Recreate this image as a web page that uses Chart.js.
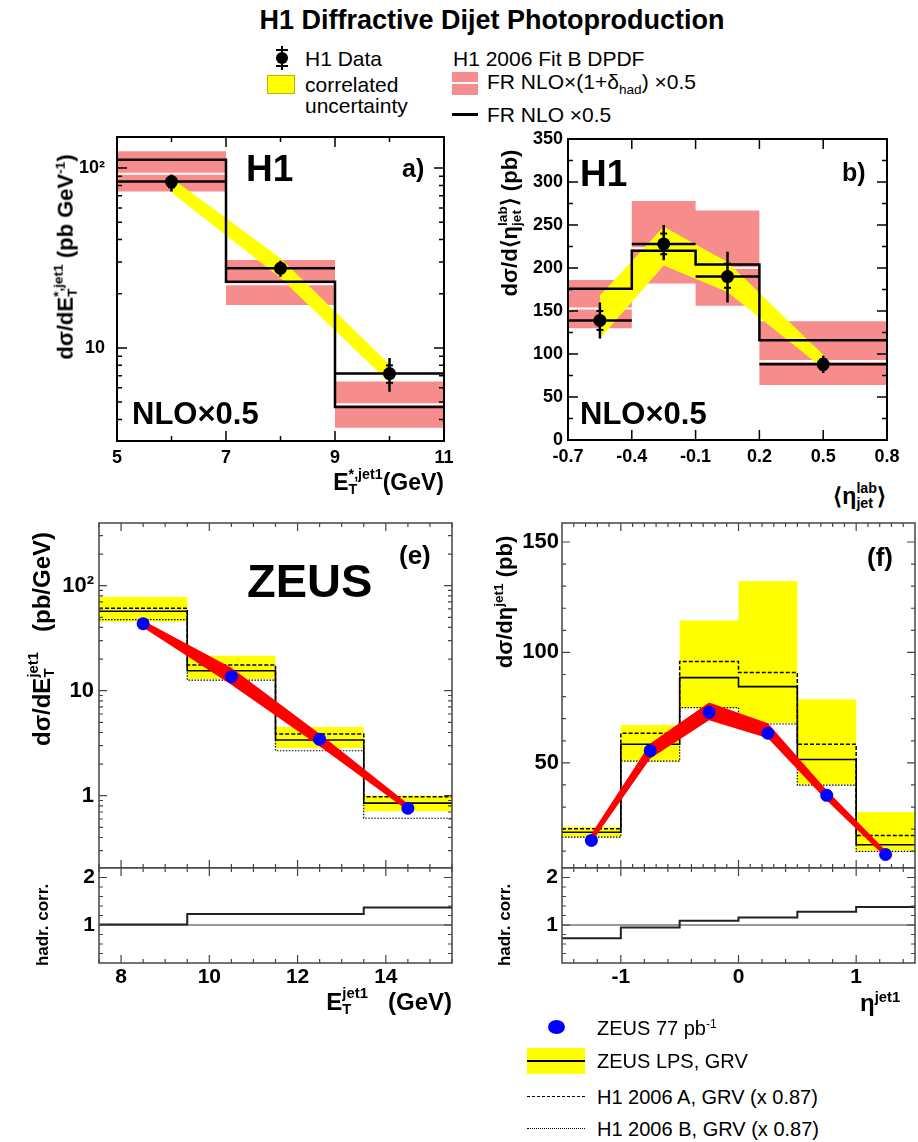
<!DOCTYPE html>
<html>
<head>
<meta charset="utf-8">
<script src="https://cdn.jsdelivr.net/npm/chart.js@4.4.1/dist/chart.umd.min.js"></script>
<style>
  body { margin: 0; width: 918px; height: 1142px; background: #fff; position: relative; overflow: hidden;
         font-family: "Liberation Sans", Arial, Helvetica, sans-serif; }
  canvas { position: absolute; }
  .t { position: absolute; white-space: nowrap; color: #000; line-height: 1; }
  .b { font-weight: bold; }
  .l { transform: translate(0, -50%); }
  .c { transform: translate(-50%, -50%); }
  .r { transform: translate(-100%, -50%); }
  .rot { transform: translate(-50%, -50%) rotate(-90deg); }
  .ss { display: inline-block; vertical-align: -0.3em; font-size: 0.62em; line-height: 1.05; text-align: left; }
  .ss > span { display: block; }
  .box { position: absolute; }
</style>
</head>
<body>

<!-- titre + légende H1 -->
<div class="t b c" style="left:492px;top:20px;font-size:27px">H1 Diffractive Dijet Photoproduction</div>

<div class="box" style="left:281px;top:46px;width:2px;height:24px;background:#000"></div>
<div class="box" style="left:276px;top:49px;width:12px;height:2px;background:#000"></div>
<div class="box" style="left:276px;top:65px;width:12px;height:2px;background:#000"></div>
<div class="box" style="left:276px;top:52px;width:12px;height:12px;border-radius:50%;background:#000"></div>
<div class="t l" style="left:305px;top:58px;font-size:21px">H1 Data</div>
<div class="box" style="left:267px;top:75px;width:26px;height:17px;background:#ffff00;border:1px solid #b8b800"></div>
<div class="t l" style="left:305px;top:84px;font-size:21px">correlated</div>
<div class="t l" style="left:305px;top:105px;font-size:21px">uncertainty</div>

<div class="t l" style="left:453px;top:58px;font-size:21px">H1 2006 Fit B DPDF</div>
<div class="box" style="left:452px;top:72px;width:26px;height:23px;background:#f78c8c"></div>
<div class="box" style="left:452px;top:82px;width:26px;height:2px;background:#fff"></div>
<div class="t l" style="left:487px;top:84px;font-size:21px">FR NLO×(1+δ<sub style="font-size:0.65em">had</sub>) ×0.5</div>
<div class="box" style="left:452px;top:113px;width:26px;height:3px;background:#000"></div>
<div class="t l" style="left:487px;top:114px;font-size:21px">FR NLO ×0.5</div>

<canvas id="cA"></canvas>
<canvas id="cB"></canvas>
<canvas id="cE"></canvas>
<canvas id="cER"></canvas>
<canvas id="cF"></canvas>
<canvas id="cFR"></canvas>

<!-- a) -->
<div class="t b l" style="left:246px;top:168px;font-size:37px">H1</div>
<div class="t b l" style="left:402px;top:168px;font-size:25px">a)</div>
<div class="t b l" style="left:132px;top:413px;font-size:31px">NLO×0.5</div>
<div class="t b rot" style="left:66px;top:257px;font-size:22px">dσ/dE<span class="ss"><span>*,jet1</span><span>T</span></span> (pb GeV<sup style="font-size:0.62em">-1</sup>)</div>
<div class="t b r" style="left:444px;top:482px;font-size:23px">E<span class="ss"><span>*,jet1</span><span>T</span></span>(GeV)</div>

<!-- b) -->
<div class="t b l" style="left:580px;top:173px;font-size:37px">H1</div>
<div class="t b l" style="left:842px;top:172px;font-size:25px">b)</div>
<div class="t b l" style="left:580px;top:413px;font-size:31px">NLO×0.5</div>
<div class="t b rot" style="left:510px;top:223px;font-size:22px">dσ/d⟨η<span class="ss"><span>lab</span><span>jet</span></span>⟩ (pb)</div>
<div class="t b r" style="left:886px;top:496px;font-size:23px">⟨η<span class="ss"><span>lab</span><span>jet</span></span>⟩</div>

<!-- e) -->
<div class="t b l" style="left:247px;top:580px;font-size:47px">ZEUS</div>
<div class="t b l" style="left:399px;top:555px;font-size:26px">(e)</div>
<div class="t b rot" style="left:42px;top:639px;font-size:24px">dσ/dE<span class="ss"><span>jet1</span><span>T</span></span>&nbsp;&nbsp;&nbsp;(pb/GeV)</div>
<div class="t b rot" style="left:42px;top:925px;font-size:17px">hadr. corr.</div>
<div class="t b r" style="left:452px;top:1002px;font-size:24px">E<span class="ss"><span>jet1</span><span>T</span></span>&nbsp;&nbsp;&nbsp;(GeV)</div>

<!-- f) -->
<div class="t b l" style="left:867px;top:557px;font-size:26px">(f)</div>
<div class="t b rot" style="left:504px;top:602px;font-size:22px">dσ/dη<sup style="font-size:0.62em">jet1</sup> (pb)</div>
<div class="t b rot" style="left:504px;top:925px;font-size:17px">hadr. corr.</div>
<div class="t b l" style="left:860px;top:1002px;font-size:24px">η<sup style="font-size:0.62em">jet1</sup></div>

<!-- légende ZEUS -->
<div class="box" style="left:548px;top:1020px;width:17px;height:14px;border-radius:50%;background:#0000ff"></div>
<div class="t l" style="left:597px;top:1028px;font-size:20px">ZEUS 77 pb<sup style="font-size:0.6em">-1</sup></div>
<div class="box" style="left:527px;top:1048px;width:58px;height:26px;background:#ffff00"></div>
<div class="box" style="left:527px;top:1060px;width:58px;height:2px;background:#000"></div>
<div class="t l" style="left:597px;top:1061px;font-size:20px">ZEUS LPS, GRV</div>
<div class="box" style="left:527px;top:1096px;width:58px;height:0;border-top:1.5px dashed #000"></div>
<div class="t l" style="left:597px;top:1097px;font-size:20px">H1 2006 A, GRV (x 0.87)</div>
<div class="box" style="left:527px;top:1128px;width:58px;height:0;border-top:1px dotted #000"></div>
<div class="t l" style="left:597px;top:1129px;font-size:20px">H1 2006 B, GRV (x 0.87)</div>

<script>
// --- données ---

// a) H1 : dσ/dE_T*,jet1
const edgesA = [5, 7, 9, 11];
const centresA = [6, 8, 10];
const dataA = [84, 27.7, 7.2];
const totLoA = [74, 24.9, 5.7];
const totHiA = [92, 30.5, 8.8];
const statLoA = [78, 26.2, 6.4];
const statHiA = [89, 29.3, 8.0];
const corrLoA = [73, 24.5, 6.4];
const corrHiA = [88, 31.5, 8.1];
const nloA = [111, 23.3, 4.7];
const nloHadA = [93, 22.6, 4.86];
const nloHadLoA = [74, 17.3, 3.6];
const nloHadHiA = [124, 30.8, 6.5];
const xLabelsA = [5, 7, 9, 11];
const yLabelsA = [10, 100];

// b) H1 : dσ/d<η_jet^lab>
const edgesB = [-0.7, -0.4, -0.1, 0.2, 0.8];
const centresB = [-0.55, -0.25, 0.05, 0.5];
const dataB = [139, 228, 190, 88];
const totLoB = [118, 209, 160, 78];
const totHiB = [160, 250, 219, 98];
const statLoB = [128, 216, 177, 82];
const statHiB = [150, 240, 205, 94];
const corrLoB = [118, 203, 172, 83];
const corrHiB = [168, 248, 207, 99];
const nloB = [176, 220, 204, 116];
const nloHadB = [153, 223, 200, 92];
const nloHadLoB = [130, 182, 156, 64];
const nloHadHiB = [186, 278, 267, 138];
const xLabelsB = [-0.7, -0.4, -0.1, 0.2, 0.5, 0.8];
const yLabelsB = [0, 50, 100, 150, 200, 250, 300, 350];

// e) ZEUS : dσ/dE_T^jet1
const edgesE = [7.5, 9.5, 11.5, 13.5, 15.5];
const centresE = [8.5, 10.5, 12.5, 14.5];
const zeusE = [43.5, 13.6, 3.44, 0.76];
const redLoE = [40, 11.4, 2.95, 0.72];
const redHiE = [46.5, 16.5, 3.9, 0.84];
const lpsE = [57, 15.5, 3.39, 0.85];
const lpsLoE = [45.7, 12.9, 2.85, 0.71];
const lpsHiE = [78, 21.5, 4.5, 1.0];
const h1aE = [61, 17.6, 3.87, 0.98];
const h1bE = [47.5, 12.6, 2.68, 0.61];
const hadrE = [1.01, 1.23, 1.23, 1.37];
const xLabelsE = [8, 10, 12, 14];
const yLabelsE = [1, 10, 100];

// f) ZEUS : dσ/dη^jet1
const edgesF = [-1.5, -1, -0.5, 0, 0.5, 1, 1.5];
const centresF = [-1.25, -0.75, -0.25, 0.25, 0.75, 1.25];
const zeusF = [14.9, 55.5, 72.9, 63.4, 35.3, 8.5];
const redLoF = [14, 52, 69.3, 61.1, 33, 7.3];
const redHiF = [17.9, 58.8, 77.3, 67.9, 37.6, 10.3];
const lpsF = [18.6, 58.4, 88.6, 84.5, 51.5, 12.9];
const lpsLoF = [16.4, 50.8, 74.7, 67.9, 40.2, 10.3];
const lpsHiF = [21, 67.1, 114.5, 132.3, 78.8, 27.7];
const h1aF = [20.2, 63.4, 95.9, 90.9, 58.4, 17.1];
const h1bF = [16.4, 50.8, 75, 67.6, 39.9, 9.9];
const hadrF = [0.72, 0.95, 1.09, 1.16, 1.28, 1.38];
const xLabelsF = [-1, 0, 1];
const yLabelsF = [50, 100, 150];
const yLabelsR = [1, 2];

// --- couleurs ---
const PINK = '#f78c8c';
const YELLOW = '#ffff00';
const RED = '#ff0000';
const BLUE = '#0000ff';
const FONT = '"Liberation Sans", Arial, Helvetica, sans-serif';
const H1_TICK = { family: FONT, size: 18, weight: 'bold' };
const Z_TICK = { family: FONT, size: 22, weight: 'bold' };
const ZR_TICK = { family: FONT, size: 21, weight: 'bold' };

// --- petits outils ---
const xy = (xs, ys) => xs.map((x, i) => ({ x, y: ys[i] }));
// histogramme en escalier : un point par bord gauche + dernier bord
const hist = (edges, vals) => edges.map((x, i) => ({ x, y: vals[Math.min(i, vals.length - 1)] }));
// segments horizontaux non reliés
const bins = (edges, vals) => vals.flatMap((v, i) => [{ x: edges[i], y: v }, { x: edges[i + 1], y: v }, { x: edges[i + 1], y: null }]);
// barres d'erreur verticales
const bars = (xs, lo, hi) => xs.flatMap((x, i) => [{ x, y: lo[i] }, { x, y: hi[i] }, { x, y: null }]);
const range = (a, b, step) => { const out = []; for (let v = a; v <= b + 1e-9; v += step) out.push(+v.toFixed(4)); return out; };
const without = (list, skip) => list.filter(v => !skip.some(s => Math.abs(s - v) < 1e-6));

const line = (data, color, width, extra) => Object.assign({
  data, borderColor: color, borderWidth: width, pointRadius: 0, fill: false, tension: 0
}, extra);

const band = (hi, lo, color, stepped) => [
  { data: hi, borderColor: 'rgba(0,0,0,0)', borderWidth: 0, pointRadius: 0, fill: '+1', backgroundColor: color, stepped },
  { data: lo, borderColor: 'rgba(0,0,0,0)', borderWidth: 0, pointRadius: 0, fill: false, stepped }
];

const dots = (data, color, r) => ({
  data, showLine: false, pointRadius: r, pointBackgroundColor: color, pointBorderColor: color, pointBorderWidth: 0, fill: false
});

const statTicks = (xs, lo, hi) => ({
  data: xy(xs, lo).concat(xy(xs, hi)), showLine: false, pointStyle: 'line',
  pointRadius: 3.5, pointBorderColor: '#000', pointBorderWidth: 2, fill: false
});

// premier de la liste = dessiné en dessous
const stack = list => list.map((d, i) => Object.assign(d, { order: list.length - i }));

function axis(type, min, max, labels, fmt, font, pad, show) {
  return {
    type, min, max, bounds: 'data',
    grid: { display: false, drawTicks: false },
    border: { display: false },
    afterBuildTicks: s => { s.ticks = labels.map(v => ({ value: v })); },
    ticks: { display: show !== false, color: '#000', font, padding: pad, autoSkip: false,
             maxRotation: 0, minRotation: 0, callback: fmt }
  };
}

// cadre + petites graduations vers l'intérieur (style ROOT)
const frameTicks = {
  id: 'frameTicks',
  afterDraw(chart, args, o) {
    if (!o || !o.lw) return;
    const { ctx, chartArea: a } = chart;
    const sx = chart.scales.x, sy = chart.scales.y;
    ctx.save();
    ctx.strokeStyle = o.color;
    ctx.lineWidth = o.tickWidth;
    ctx.beginPath();
    const xt = (vals, len) => vals.forEach(v => {
      const p = sx.getPixelForValue(v);
      ctx.moveTo(p, a.bottom); ctx.lineTo(p, a.bottom - len);
      ctx.moveTo(p, a.top); ctx.lineTo(p, a.top + len);
    });
    const yt = (vals, len) => vals.forEach(v => {
      const p = sy.getPixelForValue(v);
      ctx.moveTo(a.left, p); ctx.lineTo(a.left + len, p);
      ctx.moveTo(a.right, p); ctx.lineTo(a.right - len, p);
    });
    xt(o.xMaj || [], o.major); xt(o.xMin || [], o.minor);
    yt(o.yMaj || [], o.major); yt(o.yMin || [], o.minor);
    ctx.stroke();
    ctx.lineWidth = o.lw;
    ctx.strokeRect(a.left, a.top, a.right - a.left, a.bottom - a.top);
    ctx.restore();
  }
};
Chart.register(frameTicks);

function makeChart(id, frame, m, datasets, scales, ticksOpt) {
  const cv = document.getElementById(id);
  const w = frame.r - frame.l + m.l + m.r;
  const h = frame.b - frame.t + m.t + m.b;
  cv.width = w; cv.height = h;
  cv.style.left = (frame.l - m.l) + 'px';
  cv.style.top = (frame.t - m.t) + 'px';
  cv.style.width = w + 'px';
  cv.style.height = h + 'px';
  scales.x.afterFit = s => { s.height = m.b; s.paddingLeft = 0; s.paddingRight = 0; };
  scales.y.afterFit = s => { s.width = m.l; s.paddingTop = 0; s.paddingBottom = 0; };
  return new Chart(cv, {
    type: 'line',
    data: { datasets: stack(datasets) },
    options: {
      responsive: false,
      animation: false,
      events: [],
      layout: { autoPadding: false, padding: { left: 0, top: m.t, right: m.r, bottom: 0 } },
      scales,
      plugins: { legend: { display: false }, tooltip: { enabled: false }, frameTicks: ticksOpt }
    }
  });
}

const logLabel = v => ({ 1: '1', 10: '10', 100: '10²' })[v];
const logMinor = [0.3, 0.4, 0.5, 0.6, 0.7, 0.8, 0.9, 2, 3, 4, 5, 6, 7, 8, 9, 20, 30, 40, 50, 60, 70, 80, 90, 200, 300];

// --- a) ---
makeChart('cA', { l: 117, t: 137, r: 444, b: 441 }, { l: 60, t: 10, r: 20, b: 30 }, [
  ...band(hist(edgesA, nloHadHiA), hist(edgesA, nloHadLoA), PINK, true),
  line(bins(edgesA, nloHadA), '#fff', 2),
  ...band(xy(centresA, corrHiA), xy(centresA, corrLoA), YELLOW, false),
  line(hist(edgesA, nloA), '#000', 2.5, { stepped: true }),
  line(bins(edgesA, dataA), '#000', 2.5),
  line(bars(centresA, totLoA, totHiA), '#000', 2.5),
  statTicks(centresA, statLoA, statHiA),
  dots(xy(centresA, dataA), '#000', 6.5)
], {
  x: axis('linear', 5, 11, xLabelsA, v => String(v), H1_TICK, 6),
  y: axis('logarithmic', 3.04, 148.6, yLabelsA, logLabel, H1_TICK, 12)
}, { color: '#000', lw: 2, tickWidth: 1.5, major: 10, minor: 5,
     xMaj: xLabelsA, xMin: [6, 8, 10], yMaj: yLabelsA, yMin: [4, 5, 6, 7, 8, 9, 20, 30, 40, 50, 60, 70, 80, 90] });

// --- b) ---
makeChart('cB', { l: 568, t: 139, r: 887, b: 440 }, { l: 60, t: 10, r: 20, b: 30 }, [
  ...band(hist(edgesB, nloHadHiB), hist(edgesB, nloHadLoB), PINK, true),
  line(bins(edgesB, nloHadB), '#fff', 2),
  ...band(xy(centresB, corrHiB), xy(centresB, corrLoB), YELLOW, false),
  line(hist(edgesB, nloB), '#000', 2.5, { stepped: true }),
  line(bins(edgesB, dataB), '#000', 2.5),
  line(bars(centresB, totLoB, totHiB), '#000', 2.5),
  statTicks(centresB, statLoB, statHiB),
  dots(xy(centresB, dataB), '#000', 6.5)
], {
  x: axis('linear', -0.7, 0.8, xLabelsB, v => v.toFixed(1), H1_TICK, 6),
  y: axis('linear', 0, 350, yLabelsB, v => String(v), H1_TICK, 5)
}, { color: '#000', lw: 2, tickWidth: 1.5, major: 10, minor: 5,
     xMaj: xLabelsB, xMin: [], yMaj: yLabelsB, yMin: range(25, 325, 50) });

// --- e) ---
makeChart('cE', { l: 99, t: 523, r: 452, b: 868 }, { l: 70, t: 5, r: 4, b: 0 }, [
  ...band(hist(edgesE, lpsHiE), hist(edgesE, lpsLoE), YELLOW, true),
  line(hist(edgesE, h1bE), '#000', 1.2, { stepped: true, borderDash: [1.5, 1.5] }),
  line(hist(edgesE, h1aE), '#000', 1.5, { stepped: true, borderDash: [4, 2] }),
  line(hist(edgesE, lpsE), '#000', 1.6, { stepped: true }),
  ...band(xy(centresE, redHiE), xy(centresE, redLoE), RED, false),
  line(xy(centresE, zeusE), RED, 2),
  dots(xy(centresE, zeusE), BLUE, 6.5)
], {
  x: axis('linear', 7.5, 15.5, xLabelsE, v => String(v), Z_TICK, 4, false),
  y: axis('logarithmic', 0.205, 395, yLabelsE, logLabel, Z_TICK, 5)
}, { color: '#444', lw: 1.5, tickWidth: 1.2, major: 8, minor: 4,
     xMaj: xLabelsE, xMin: without(range(7.5, 15.5, 0.5), xLabelsE), yMaj: yLabelsE, yMin: logMinor });

makeChart('cER', { l: 99, t: 868, r: 452, b: 963 }, { l: 70, t: 3, r: 4, b: 32 }, [
  line(xy([7.5, 15.5], [1, 1]), '#333', 1),
  line(hist(edgesE, hadrE), '#222', 2, { stepped: true })
], {
  x: axis('linear', 7.5, 15.5, xLabelsE, v => String(v), ZR_TICK, 2),
  y: axis('linear', 0.2, 2.2, yLabelsR, v => String(v), ZR_TICK, 4)
}, { color: '#444', lw: 1.5, tickWidth: 1.2, major: 8, minor: 4,
     xMaj: xLabelsE, xMin: without(range(7.5, 15.5, 0.5), xLabelsE), yMaj: yLabelsR, yMin: without(range(0.4, 2.0, 0.2), yLabelsR) });

// --- f) ---
makeChart('cF', { l: 562, t: 523, r: 915, b: 868 }, { l: 70, t: 5, r: 3, b: 0 }, [
  ...band(hist(edgesF, lpsHiF), hist(edgesF, lpsLoF), YELLOW, true),
  line(hist(edgesF, h1bF), '#000', 1.2, { stepped: true, borderDash: [1.5, 1.5] }),
  line(hist(edgesF, h1aF), '#000', 1.5, { stepped: true, borderDash: [4, 2] }),
  line(hist(edgesF, lpsF), '#000', 1.6, { stepped: true }),
  ...band(xy(centresF, redHiF), xy(centresF, redLoF), RED, false),
  line(xy(centresF, zeusF), RED, 2),
  dots(xy(centresF, zeusF), BLUE, 6.5)
], {
  x: axis('linear', -1.5, 1.5, xLabelsF, v => String(v), Z_TICK, 4, false),
  y: axis('linear', 2.4, 158.6, yLabelsF, v => String(v), Z_TICK, 3)
}, { color: '#444', lw: 1.5, tickWidth: 1.2, major: 8, minor: 4,
     xMaj: xLabelsF, xMin: without(range(-1.4, 1.4, 0.1), xLabelsF), yMaj: yLabelsF, yMin: without(range(10, 150, 10), yLabelsF) });

makeChart('cFR', { l: 562, t: 868, r: 915, b: 963 }, { l: 70, t: 3, r: 3, b: 32 }, [
  line(xy([-1.5, 1.5], [1, 1]), '#333', 1),
  line(hist(edgesF, hadrF), '#222', 2, { stepped: true })
], {
  x: axis('linear', -1.5, 1.5, xLabelsF, v => String(v), ZR_TICK, 2),
  y: axis('linear', 0.2, 2.2, yLabelsR, v => String(v), ZR_TICK, 4)
}, { color: '#444', lw: 1.5, tickWidth: 1.2, major: 8, minor: 4,
     xMaj: xLabelsF, xMin: without(range(-1.4, 1.4, 0.2), xLabelsF), yMaj: yLabelsR, yMin: without(range(0.4, 2.0, 0.2), yLabelsR) });
</script>
</body>
</html>
